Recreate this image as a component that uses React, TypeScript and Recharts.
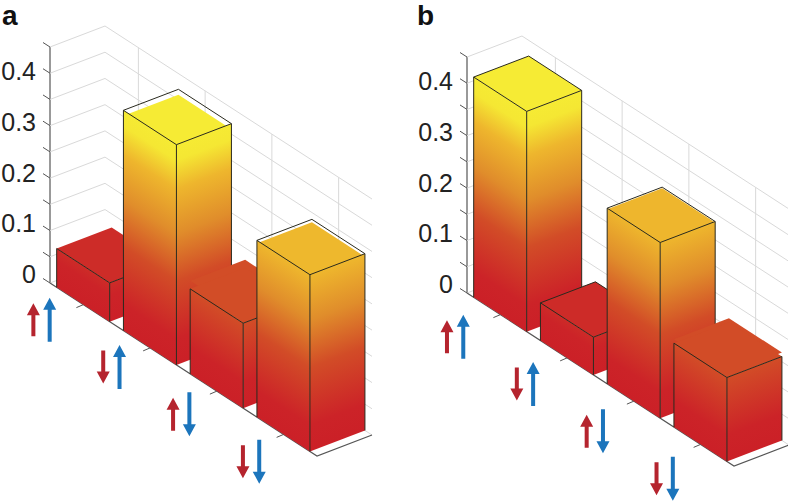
import React from 'react';
import { BarChart, Bar, XAxis, YAxis } from 'recharts';

// spin configurations, first arrow red, second arrow blue
const CATEGORIES = ['↑↑', '↓↑', '↑↓', '↓↓'];
const VALUES_A = [0.074, 0.42, 0.162, 0.337];
const VALUES_B = [0.42, 0.072, 0.335, 0.16];
const Z_TICKS = [0, 0.05, 0.1, 0.15, 0.2, 0.25, 0.3, 0.35, 0.4, 0.45];
const Z_LABELS = [0, 0.1, 0.2, 0.3, 0.4];

// colormap by height
const COLOR_Z = [0, 0.05, 0.16, 0.25, 0.335, 0.39, 0.45];
const COLOR_HEX = ['#cb2027', '#cc2328', '#d24c27', '#e08d2b', '#eeb62d', '#f5e733', '#f6ee34'];

const Z_MAX = 0.45;
const SLOPE = 0.648; // floor direction on screen
const DX = 55; // depth vector of a box
const DY = -21;
const GRID = '#d9d9d9';
const AXIS = '#555';
const EDGE = '#2a2a1e';
const FONT = '"Liberation Sans", Arial, sans-serif';
const PLOT_HEIGHT = 236;

const PANEL_A = {
  id: 'a', left: 0, width: 400, axisX: 50, top: 47, right: 83, arrowDx: -50, arrowDy: 15,
  topShift: [0, 5.5, -8, 3], backEdge: [false, true, false, true],
};
const PANEL_B = {
  id: 'b', left: 400, width: 388, axisX: 67, top: 57, right: 54, arrowDx: -53.4, arrowDy: 22,
  topShift: [0, 0, 1, -4], backEdge: [true, true, true, false],
};

function hexToRgb(hex: string) {
  return [1, 3, 5].map((i) => parseInt(hex.slice(i, i + 2), 16));
}

function colorAt(z: number) {
  for (let i = 1; i < COLOR_Z.length; i++) {
    if (z <= COLOR_Z[i]) {
      const t = (z - COLOR_Z[i - 1]) / (COLOR_Z[i] - COLOR_Z[i - 1]);
      const a = hexToRgb(COLOR_HEX[i - 1]);
      const b = hexToRgb(COLOR_HEX[i]);
      return `rgb(${a.map((v, k) => Math.round(v + (b[k] - v) * t)).join(',')})`;
    }
  }
  return COLOR_HEX[COLOR_HEX.length - 1];
}

// gradient whose colour lines run along the face's floor direction
function FaceGradient({ id, x, y, slope, span }: any) {
  const k = span / (1 + slope * slope);
  return (
    <linearGradient id={id} gradientUnits="userSpaceOnUse" x1={x} y1={y} x2={x + slope * k} y2={y - k}>
      {COLOR_Z.map((z, i) => (
        <stop key={z} offset={z / Z_MAX} stopColor={COLOR_HEX[i]} />
      ))}
    </linearGradient>
  );
}

function Box(props: any) {
  const { x, y, width, height, index, payload, panel } = props;
  const base = y + height;
  const groundL = base + (x - panel.axisX) * SLOPE;
  const groundF = groundL + width * SLOPE;
  const frontX = x + width;
  const rightX = frontX + DX;
  const topL = groundL - height;
  const topF = groundF - height;
  const topR = topF + DY;
  const backX = x + DX;
  const backY = topL + DY;
  const span = (height / payload.value) * Z_MAX;
  const shift = panel.topShift[index];
  const leftId = `left-${panel.id}-${index}`;
  const rightId = `right-${panel.id}-${index}`;
  const topFill = colorAt(payload.value);
  const topPoints = (d: number) =>
    `${x},${topL + d} ${frontX},${topF + d} ${rightX},${topR + d} ${backX},${backY + d}`;

  return (
    <g>
      <defs>
        <FaceGradient id={leftId} x={x} y={groundL} slope={SLOPE} span={span} />
        <FaceGradient id={rightId} x={frontX} y={groundF} slope={DY / DX} span={span} />
      </defs>
      <polygon points={topPoints(shift)} fill={topFill} />
      {shift < 0 && <polygon points={topPoints(0)} fill={topFill} />}
      <polygon points={`${x},${topL} ${frontX},${topF} ${frontX},${groundF} ${x},${groundL}`} fill={`url(#${leftId})`} />
      <polygon
        points={`${frontX},${topF} ${rightX},${topR} ${rightX},${groundF + DY} ${frontX},${groundF}`}
        fill={`url(#${rightId})`}
      />
      <g fill="none" stroke={EDGE} strokeWidth={1}>
        <polyline points={`${x},${groundL} ${x},${topL} ${frontX},${topF} ${rightX},${topR} ${rightX},${groundF + DY}`} />
        <line x1={frontX} y1={topF} x2={frontX} y2={groundF} />
        {panel.backEdge[index] && <polyline points={`${x},${topL} ${backX},${backY} ${rightX},${topR}`} />}
      </g>
    </g>
  );
}

function Arrow({ x, y, up, length, color }: any) {
  const dir = up ? -1 : 1;
  const tip = y + (dir * length) / 2;
  const tail = y - (dir * length) / 2;
  const neck = tip - dir * 12;
  return (
    <path
      d={`M${x - 2},${tail} L${x + 2},${tail} L${x + 2},${neck} L${x + 6.5},${neck} L${x},${tip} L${x - 6.5},${neck} L${x - 2},${neck} Z`}
      fill={color}
    />
  );
}

function CategoryTick(props: any) {
  const { x, y, index, payload, panel } = props;
  const ground = y + (x - panel.axisX) * SLOPE;
  const cx = x + panel.arrowDx + 3.1 * index;
  const cy = ground + panel.arrowDy + 4.1 * index;
  const [first, second] = Array.from(payload.value as string);
  return (
    <g>
      <line x1={x + DX} y1={ground + DY} x2={x + DX} y2={ground + DY - PLOT_HEIGHT} stroke={GRID} strokeWidth={1} />
      <line x1={x} y1={ground} x2={x - 7} y2={ground + 3} stroke={AXIS} strokeWidth={1} />
      <Arrow x={cx} y={cy} up={first === '↑'} length={33} color="#b5242e" />
      <Arrow x={cx + 16.3} y={cy} up={second === '↑'} length={44} color="#1c75bc" />
    </g>
  );
}

function ZTick(props: any) {
  const { x, y, payload } = props;
  const v = payload.value;
  const floorLen = 267;
  const isZero = v === 0;
  const labelled = Z_LABELS.some((l) => Math.abs(l - v) < 1e-6);
  return (
    <g>
      <polyline
        points={`${x},${y} ${x + DX},${y + DY} ${x + DX + floorLen},${y + DY + floorLen * SLOPE}`}
        fill="none"
        stroke={GRID}
        strokeWidth={1}
      />
      <line x1={x - 7} y1={y - 4.5} x2={x} y2={y} stroke={AXIS} strokeWidth={1} />
      {isZero && (
        <polyline
          points={`${x},${y} ${x + floorLen},${y + floorLen * SLOPE} ${x + floorLen + DX},${y + floorLen * SLOPE + DY}`}
          fill="none"
          stroke={AXIS}
          strokeWidth={1.2}
        />
      )}
      {labelled && (
        <text
          x={x - 14}
          y={y - 2 - (0.4 - v) * 17}
          dy="0.36em"
          textAnchor="end"
          fontFamily={FONT}
          fontSize={25}
          fill="#222"
        >
          {v}
        </text>
      )}
    </g>
  );
}

function Panel({ panel, values }: any) {
  const data = CATEGORIES.map((spin, i) => ({ spin, value: values[i] }));
  const chartProps = { width: panel.width, height: 501, data, barCategoryGap: '10%' };
  return (
    <>
      {/* walls, axes and arrows go underneath */}
      <div style={{ position: 'absolute', left: panel.left, top: 0 }}>
        <BarChart
          {...chartProps}
          margin={{ top: panel.top, right: panel.right, bottom: 501 - panel.top - PLOT_HEIGHT - 1, left: 0 }}
        >
          <YAxis
            width={panel.axisX}
            domain={[0, Z_MAX]}
            ticks={Z_TICKS}
            interval={0}
            tickSize={0}
            tickMargin={0}
            axisLine={{ stroke: AXIS, strokeWidth: 1.2 }}
            tickLine={false}
            tick={<ZTick />}
          />
          <XAxis
            dataKey="spin"
            height={1}
            interval={0}
            tickSize={0}
            tickMargin={0}
            axisLine={false}
            tickLine={false}
            tick={<CategoryTick panel={panel} />}
          />
          <Bar dataKey="value" isAnimationActive={false} shape={() => null} />
        </BarChart>
      </div>
      {/* boxes on top, same scales */}
      <div style={{ position: 'absolute', left: panel.left, top: 0 }}>
        <BarChart
          {...chartProps}
          margin={{ top: panel.top, right: panel.right, bottom: 501 - panel.top - PLOT_HEIGHT, left: panel.axisX }}
        >
          <YAxis hide domain={[0, Z_MAX]} />
          <XAxis hide dataKey="spin" />
          <Bar dataKey="value" isAnimationActive={false} shape={<Box panel={panel} />} />
        </BarChart>
      </div>
    </>
  );
}

const letterStyle = (left: number): React.CSSProperties => ({
  position: 'absolute',
  left,
  top: 0,
  fontFamily: FONT,
  fontSize: 28,
  fontWeight: 700,
  lineHeight: '32px',
  color: '#111',
});

export default function App() {
  return (
    <div style={{ position: 'absolute', left: 0, top: 0, width: 788, height: 501, background: '#fff', overflow: 'hidden' }}>
      <Panel panel={PANEL_A} values={VALUES_A} />
      <Panel panel={PANEL_B} values={VALUES_B} />
      <div style={letterStyle(2)}>a</div>
      <div style={letterStyle(417)}>b</div>
    </div>
  );
}
